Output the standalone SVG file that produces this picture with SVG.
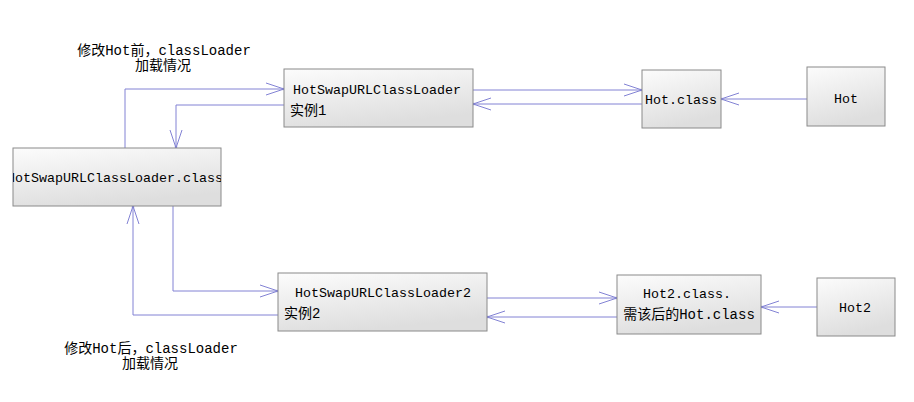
<svg xmlns="http://www.w3.org/2000/svg" width="914" height="402" viewBox="0 0 914 402">
<style>
.box{fill:url(#g);stroke:#8a8a8a;stroke-width:1}
.t{font-family:"Liberation Mono","Noto Sans CJK SC",monospace;font-size:13.33px;fill:#000}
.m{font-size:14px}
.ln{fill:none;stroke:#8282d4;stroke-width:1;marker-end:url(#a)}
</style>
<defs>
<linearGradient id="g" x1="0" y1="0" x2="0.35" y2="1">
<stop offset="0" stop-color="#fcfcfc"/>
<stop offset="1" stop-color="#dedede"/>
</linearGradient>
<marker id="a" markerUnits="userSpaceOnUse" markerWidth="22" markerHeight="16" refX="19" refY="7" orient="auto" overflow="visible">
<path d="M1 1 L19 7 L1 13" fill="none" stroke="#8282d4" stroke-width="1"/>
<circle cx="18" cy="7" r="1.3" fill="#8282d4"/>
</marker>
<clipPath id="cb"><rect x="13" y="148" width="208" height="58"/></clipPath>
</defs>
<rect width="914" height="402" fill="#fff"/>
<g id="connectors">
<path class="ln" d="M125 148 V89 H284"/>
<path class="ln" d="M284 105 H176 V148"/>
<path class="ln" d="M473 90 H642"/>
<path class="ln" d="M642 104 H473"/>
<path class="ln" d="M807 99 H721"/>
<path class="ln" d="M173 206 V291 H278"/>
<path class="ln" d="M278 315 H133 V206"/>
<path class="ln" d="M487 298 H617"/>
<path class="ln" d="M617 317 H487"/>
<path class="ln" d="M817 307 H761"/>
</g>
<g id="label-before">
<text class="t m" x="164" y="55" text-anchor="middle">修改Hot前，classLoader</text>
<text class="t m" x="163" y="70" text-anchor="middle">加载情况</text>
</g>
<g id="label-after">
<text class="t m" x="151" y="353" text-anchor="middle">修改Hot后，classLoader</text>
<text class="t m" x="150" y="368" text-anchor="middle">加载情况</text>
</g>
<g id="loader1">
<rect class="box" x="284" y="69" width="189" height="58"/>
<text class="t" x="293" y="94">HotSwapURLClassLoader</text>
<text class="t m" x="290" y="115">实例1</text>
</g>
<g id="loaderClass">
<rect class="box" x="13" y="148" width="208" height="58"/>
<text class="t" x="115" y="182" text-anchor="middle" clip-path="url(#cb)">HotSwapURLClassLoader.class</text>
</g>
<g id="hotClass">
<rect class="box" x="642" y="70" width="79" height="58"/>
<text class="t" x="681" y="104" text-anchor="middle">Hot.class</text>
</g>
<g id="hot">
<rect class="box" x="807" y="67" width="78" height="59"/>
<text class="t" x="846" y="103" text-anchor="middle">Hot</text>
</g>
<g id="loader2">
<rect class="box" x="278" y="273" width="209" height="58"/>
<text class="t" x="295" y="297">HotSwapURLClassLoader2</text>
<text class="t m" x="284" y="318">实例2</text>
</g>
<g id="hot2Class">
<rect class="box" x="617" y="275" width="144" height="59"/>
<text class="t" x="687" y="298" text-anchor="middle">Hot2.class.</text>
<text class="t m" x="689" y="319" text-anchor="middle">需该后的Hot.class</text>
</g>
<g id="hot2">
<rect class="box" x="817" y="278" width="78" height="58"/>
<text class="t" x="855" y="312" text-anchor="middle">Hot2</text>
</g>
</svg>
